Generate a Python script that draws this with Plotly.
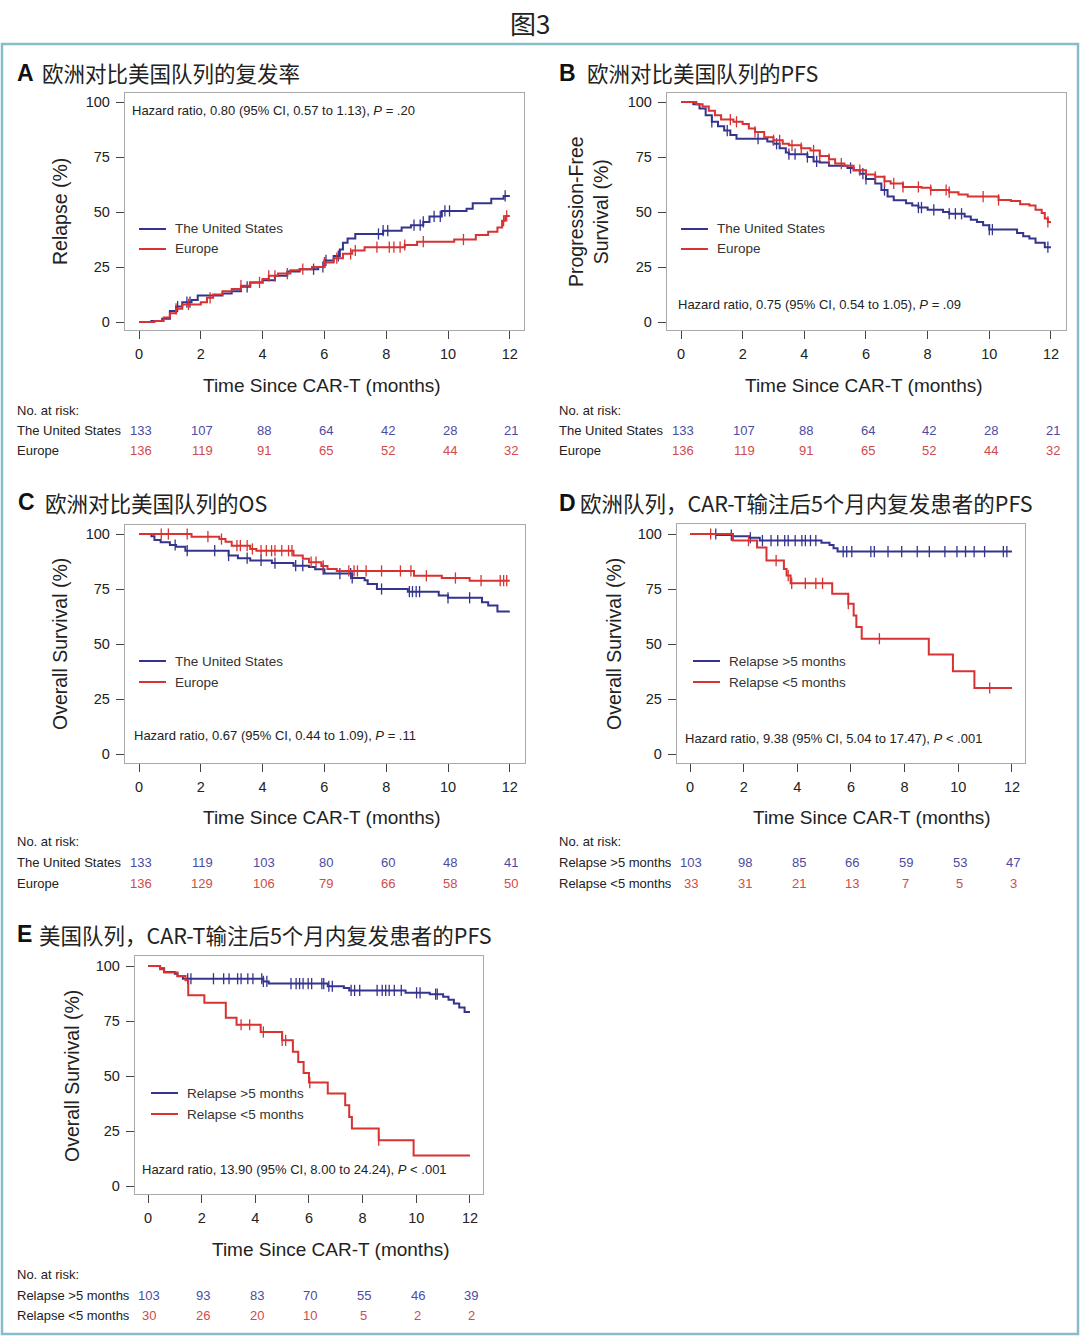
import plotly.graph_objects as go

W, H = 1080, 1337
BLUE = "#34348e"
RED = "#d83232"
BLUE_T = "#4b4ba3"
RED_T = "#d24a4a"

# ---------------- data ----------------
months = [0, 2, 4, 6, 8, 10, 12]
y_ticks = [0, 25, 50, 75, 100]

# Panel A: relapse (cumulative %)
A_us_t = [0, 0.4, 0.75, 1.0, 1.2, 1.4, 1.7, 1.9, 2.7, 3.0, 3.3, 3.6, 4.0, 4.4, 4.8, 5.2, 5.8, 6.0, 6.3, 6.5, 6.6, 6.75, 7.0, 7.9, 8.5, 8.8, 9.2, 9.4, 9.8, 10.6, 10.8, 11.4, 11.8, 12.0]
A_us_v = [0, 0.5, 1.5, 5, 7, 9, 10, 12, 13, 14, 16, 18, 19, 21, 23, 24, 25, 28, 30, 33, 36, 38, 40, 41.5, 43, 44, 45.5, 48, 50.5, 51.5, 54, 56, 57.3, 57.3]
A_us_c = [1.25, 1.55, 1.65, 3.5, 5.65, 5.95, 6.05, 6.45, 7.75, 7.9, 8.05, 8.9, 9.1, 9.2, 9.55, 9.75, 9.9, 10.05, 11.85]
A_eu_t = [0, 0.5, 0.8, 1.0, 1.2, 1.4, 2.0, 2.2, 2.4, 2.7, 3.0, 3.3, 3.6, 4.0, 4.2, 4.5, 4.9, 5.2, 5.6, 6.0, 6.3, 6.6, 6.9, 7.3, 8.6, 9.0, 10.2, 10.9, 11.3, 11.6, 11.75, 11.85, 12.0]
A_eu_v = [0, 0.5, 2, 4, 6, 8, 9, 11, 12.5, 14, 15, 16.5, 18, 19.5, 21, 22, 23.5, 24, 25, 27, 29, 31, 32.5, 34, 35, 36.5, 37.5, 39.5, 41, 43, 46, 48.2, 48.2]
A_eu_c = [1.2, 1.6, 2.3, 3.3, 3.9, 4.2, 4.4, 4.8, 5.3, 6.0, 6.4, 6.85, 7.0, 7.7, 8.1, 8.25, 8.45, 8.6, 9.2, 10.5, 11.8, 11.9]

# Panel B: PFS
B_us_t = [0, 0.3, 0.4, 0.6, 0.8, 1.0, 1.2, 1.4, 1.6, 1.8, 2.8, 3.0, 3.2, 3.4, 3.5, 4.1, 4.3, 4.5, 4.8, 5.4, 5.6, 5.8, 6.0, 6.3, 6.5, 6.7, 6.9, 7.3, 7.5, 7.7, 8.0, 8.5, 8.7, 9.2, 9.4, 9.6, 9.8, 10.0, 10.9, 11.1, 11.3, 11.5, 11.8, 12.0]
B_us_v = [100, 100, 99, 97, 94, 91, 89, 87, 85, 83.3, 82, 81, 79, 77, 76.3, 75, 73, 72.5, 71, 70, 69, 67.4, 65, 63, 60, 57, 55.3, 54, 53, 52, 51, 50, 49.2, 48, 46.5, 45.5, 44, 42, 40.5, 39, 38, 36, 34, 34]
B_us_c = [1.0, 1.5, 2.5, 3.1, 3.5, 3.7, 4.1, 4.4, 5.5, 5.9, 6.0, 6.6, 7.7, 7.8, 8.2, 8.7, 8.9, 9.1, 10.0, 10.1, 11.9]
B_eu_t = [0, 0.35, 0.5, 0.7, 0.9, 1.1, 1.3, 1.7, 2.0, 2.2, 2.4, 2.7, 3.0, 3.3, 3.5, 3.9, 4.2, 4.5, 4.8, 5.0, 5.3, 5.6, 6.0, 6.3, 6.6, 6.8, 7.2, 7.8, 8.1, 8.7, 9.0, 9.3, 10.3, 10.7, 11.0, 11.3, 11.5, 11.7, 11.8, 11.9, 12.0]
B_eu_v = [100, 100, 99, 98, 96, 94, 92, 91, 90, 88, 86.4, 84, 82.6, 81, 80.3, 79, 78, 75.5, 74, 72, 71, 69, 67, 66, 64, 63, 61.4, 61, 60, 59, 58, 57, 55.5, 55, 53.5, 53, 51, 49.5, 47, 45.5, 45.5]
B_eu_c = [1.6, 1.8, 2.4, 3.0, 3.2, 3.6, 3.9, 4.3, 4.5, 4.8, 5.2, 5.8, 6.3, 6.6, 6.9, 7.2, 7.7, 8.1, 8.6, 8.7, 9.8, 10.3, 11.9]

# Panel C: OS
C_us_t = [0, 0.3, 0.4, 0.5, 0.7, 1.0, 1.2, 1.5, 2.9, 3.2, 3.6, 4.3, 5.0, 5.5, 5.7, 6.0, 6.9, 7.3, 7.4, 7.7, 8.7, 9.7, 10.0, 11.1, 11.3, 11.6, 12.0]
C_us_v = [100, 100, 99, 97.3, 96.2, 95, 94.2, 92.4, 90.2, 89, 88, 86.8, 85.6, 85, 84, 82, 80, 79, 77.3, 75, 73.8, 72, 71, 69, 67.5, 64.8, 64.8]
C_us_c = [1.17, 1.56, 2.45, 2.9, 3.5, 3.95, 4.4, 5.07, 5.3, 5.96, 6.5, 6.85, 6.9, 7.85, 8.75, 8.85, 8.97, 9.08, 10.0, 10.7]
C_eu_t = [0, 1.7, 2.6, 2.8, 3.0, 3.6, 3.8, 5.0, 5.3, 5.5, 5.9, 6.1, 6.4, 8.9, 9.8, 10.7, 12.0]
C_eu_v = [100, 98.8, 97.7, 96.5, 94.7, 93.2, 92.4, 90.2, 88.7, 87.2, 85.5, 84.1, 83.2, 81, 80, 78.8, 78.8]
C_eu_c = [0.72, 0.95, 1.56, 2.23, 2.67, 3.17, 3.28, 3.5, 3.67, 3.95, 4.12, 4.29, 4.4, 4.62, 4.84, 4.95, 5.57, 5.73, 5.96, 6.79, 6.96, 7.07, 7.35, 7.85, 8.46, 8.8, 9.3, 10.24, 11.07, 11.69, 11.8, 11.9]

# Panel D: Europe cohort by relapse timing
D_gt_t = [0, 1.0, 1.6, 2.2, 2.6, 4.9, 5.2, 5.35, 5.5, 12.0]
D_gt_v = [100, 99.5, 99, 98.3, 97, 96, 95, 93.5, 92, 92]
D_gt_c = [0.96, 1.54, 2.25, 2.7, 3.02, 3.27, 3.53, 3.66, 3.92, 4.17, 4.3, 4.49, 4.69, 5.71, 5.84, 6.03, 6.74, 6.87, 7.38, 7.89, 8.47, 8.92, 9.5, 9.95, 10.27, 10.59, 10.98, 11.68, 11.81]
D_lt_t = [0, 1.6, 2.5, 2.85, 3.5, 3.6, 3.75, 5.3, 5.9, 6.1, 6.2, 6.4, 8.9, 9.8, 10.6, 12.0]
D_lt_v = [100, 97, 93.9, 87.9, 84.1, 81.1, 77.6, 72.8, 68.3, 63, 57.7, 52.4, 45.2, 37.6, 30, 30]
D_lt_c = [0.77, 2.18, 3.21, 3.66, 3.79, 4.3, 4.69, 4.94, 5.9, 7.06, 11.17]

# Panel E: US cohort by relapse timing
E_gt_t = [0, 0.45, 0.6, 1.0, 1.1, 1.3, 4.3, 4.5, 6.7, 7.3, 7.5, 9.6, 10.5, 11.0, 11.2, 11.4, 11.6, 11.8, 12.0]
E_gt_v = [100, 99, 97.3, 96.5, 95.3, 94.2, 93, 92, 90.8, 90, 88.9, 87.8, 87.2, 86, 84.7, 82.9, 81.1, 79.1, 79.1]
E_gt_c = [1.48, 1.6, 2.44, 2.82, 3.02, 3.34, 3.47, 3.72, 3.91, 4.24, 4.3, 4.43, 5.33, 5.52, 5.65, 5.78, 5.97, 6.1, 6.48, 6.55, 6.74, 6.87, 7.57, 7.7, 7.89, 8.54, 8.73, 8.86, 8.99, 9.18, 9.44, 10.01, 10.14, 10.72, 10.78]
E_lt_t = [0, 0.45, 0.6, 1.1, 1.4, 1.5, 2.1, 2.9, 3.3, 4.2, 5.0, 5.4, 5.6, 5.8, 6.0, 6.7, 7.35, 7.5, 7.6, 8.6, 9.9, 12.0]
E_lt_v = [100, 98.5, 97, 95.5, 93.5, 86.7, 83.3, 76.5, 73.3, 70, 66.2, 61, 56.4, 51.4, 47, 42, 36.7, 31.4, 26.1, 20.8, 13.9, 13.9]
E_lt_c = [3.47, 3.79, 4.3, 5.0, 5.13, 6.03, 8.6]

# Numbers at risk
A_risk_us = [133, 107, 88, 64, 42, 28, 21]
A_risk_eu = [136, 119, 91, 65, 52, 44, 32]
B_risk_us = [133, 107, 88, 64, 42, 28, 21]
B_risk_eu = [136, 119, 91, 65, 52, 44, 32]
C_risk_us = [133, 119, 103, 80, 60, 48, 41]
C_risk_eu = [136, 129, 106, 79, 66, 58, 50]
D_risk_gt = [103, 98, 85, 66, 59, 53, 47]
D_risk_lt = [33, 31, 21, 13, 7, 5, 3]
E_risk_gt = [103, 93, 83, 70, 55, 46, 39]
E_risk_lt = [30, 26, 20, 10, 5, 2, 2]

# ---------------- layout geometry (pixels) ----------------
panels = [
    dict(key="A", box=(125, 524, 93, 330), x0=139, xs=30.9, y100=102, y0=322,
         letter="A", letter_x=15, title="欧洲对比美国队列的复发率", title_x=40, title_y=73,
         ytitle="Relapse (%)", ytitle_x=60, ytitle_y=212,
         xtitle_x=322, xtitle_y=385,
         hr="Hazard ratio, 0.80 (95% CI, 0.57 to 1.13), <i>P</i> = .20", hr_x=130, hr_y=110,
         names=("The United States", "Europe"), leg_x=139, leg_y=(229, 249),
         risk_x=15, risk_y=(410, 431, 451),
         series=[(A_us_t, A_us_v, A_us_c), (A_eu_t, A_eu_v, A_eu_c)],
         risk=(A_risk_us, A_risk_eu)),
    dict(key="B", box=(667, 1066, 93, 330), x0=681, xs=30.83, y100=102, y0=322,
         letter="B", letter_x=557, title="欧洲对比美国队列的PFS", title_x=585, title_y=73,
         ytitle="Progression-Free<br>Survival (%)", ytitle_x=588, ytitle_y=212,
         xtitle_x=864, xtitle_y=385,
         hr="Hazard ratio, 0.75 (95% CI, 0.54 to 1.05), <i>P</i> = .09", hr_x=676, hr_y=304,
         names=("The United States", "Europe"), leg_x=681, leg_y=(229, 249),
         risk_x=557, risk_y=(410, 431, 451),
         series=[(B_us_t, B_us_v, B_us_c), (B_eu_t, B_eu_v, B_eu_c)],
         risk=(B_risk_us, B_risk_eu)),
    dict(key="C", box=(125, 525, 525, 763), x0=139, xs=30.9, y100=534, y0=754,
         letter="C", letter_x=16, title="欧洲对比美国队列的OS", title_x=43, title_y=502,
         ytitle="Overall Survival (%)", ytitle_x=60, ytitle_y=644,
         xtitle_x=322, xtitle_y=817,
         hr="Hazard ratio, 0.67 (95% CI, 0.44 to 1.09), <i>P</i> = .11", hr_x=132, hr_y=736,
         names=("The United States", "Europe"), leg_x=139, leg_y=(661, 682),
         risk_x=15, risk_y=(842, 862, 883),
         series=[(C_us_t, C_us_v, C_us_c), (C_eu_t, C_eu_v, C_eu_c)],
         risk=(C_risk_us, C_risk_eu)),
    dict(key="D", box=(677, 1025, 524, 763), x0=690, xs=26.83, y100=534, y0=754,
         letter="D", letter_x=557, title="欧洲队列，CAR-T输注后5个月内复发患者的PFS", title_x=578, title_y=503,
         ytitle="Overall Survival (%)", ytitle_x=614, ytitle_y=644,
         xtitle_x=872, xtitle_y=817,
         hr="Hazard ratio, 9.38 (95% CI, 5.04 to 17.47), <i>P</i> &lt; .001", hr_x=683, hr_y=738,
         names=("Relapse >5 months", "Relapse <5 months"), leg_x=693, leg_y=(661, 682),
         risk_x=557, risk_y=(842, 862, 883),
         series=[(D_gt_t, D_gt_v, D_gt_c), (D_lt_t, D_lt_v, D_lt_c)],
         risk=(D_risk_gt, D_risk_lt)),
    dict(key="E", box=(135, 483, 956, 1194), x0=148, xs=26.83, y100=966, y0=1186,
         letter="E", letter_x=15, title="美国队列，CAR-T输注后5个月内复发患者的PFS", title_x=37, title_y=934,
         ytitle="Overall Survival (%)", ytitle_x=72, ytitle_y=1076,
         xtitle_x=331, xtitle_y=1249,
         hr="Hazard ratio, 13.90 (95% CI, 8.00 to 24.24), <i>P</i> &lt; .001", hr_x=140, hr_y=1169,
         names=("Relapse >5 months", "Relapse <5 months"), leg_x=151, leg_y=(1093, 1114),
         risk_x=15, risk_y=(1274, 1295, 1315),
         series=[(E_gt_t, E_gt_v, E_gt_c), (E_lt_t, E_lt_v, E_lt_c)],
         risk=(E_risk_gt, E_risk_lt)),
]

SANS = "Liberation Sans, Arial, Helvetica, sans-serif"
CJK = "Noto Sans CJK SC, sans-serif"


def fx(p):
    return p / W


def fy(p):
    return 1 - p / H


def step_value(ts, vs, t):
    val = vs[0]
    for ti, vi in zip(ts, vs):
        if ti <= t:
            val = vi
        else:
            break
    return val


def esc(s):
    return s.replace("<", "&lt;").replace(">", "&gt;")


fig = go.Figure()
annotations = []
shapes = []
layout_axes = {}

colors = [BLUE, RED]
tcolors = [BLUE_T, RED_T]

for i, p in enumerate(panels):
    n = "" if i == 0 else str(i + 1)
    xa, ya = "x" + n, "y" + n
    bl, br, bt, bb = p["box"]
    xr = [(bl - p["x0"]) / p["xs"], (br - p["x0"]) / p["xs"]]
    ys = (p["y0"] - p["y100"]) / 100.0
    yr = [(p["y0"] - bb) / ys, (p["y0"] - bt) / ys]

    axis_common = dict(showline=True, mirror=True, linecolor="#a9a9a9", linewidth=1.3,
                       showgrid=False, zeroline=False, ticks="outside", ticklen=8,
                       tickwidth=1.4, tickcolor="#444444",
                       tickfont=dict(family=SANS, size=14.5, color="#222222"))
    layout_axes["xaxis" + n] = dict(axis_common, domain=[fx(bl), fx(br)], range=xr,
                                    anchor=ya, tickvals=months, ticklabelstandoff=2)
    layout_axes["yaxis" + n] = dict(axis_common, domain=[fy(bb), fy(bt)], range=yr,
                                    anchor=xa, tickvals=y_ticks, ticklabelstandoff=3)

    for j, (ts, vs, cs) in enumerate(p["series"]):
        fig.add_trace(go.Scatter(x=ts, y=vs, mode="lines", line=dict(color=colors[j], width=2, shape="hv"),
                                 xaxis=xa, yaxis=ya, showlegend=False, hoverinfo="skip"))
        fig.add_trace(go.Scatter(x=cs, y=[step_value(ts, vs, c) for c in cs], mode="markers",
                                 marker=dict(symbol="line-ns", size=8, line=dict(color=colors[j], width=1.3)),
                                 xaxis=xa, yaxis=ya, showlegend=False, hoverinfo="skip"))

    annotations.append(dict(text="<b>" + p["letter"] + "</b>", x=fx(p["letter_x"]), y=fy(p["title_y"]),
                            xref="paper", yref="paper", xanchor="left", yanchor="middle", showarrow=False,
                            font=dict(family=SANS, size=23, color="#111111")))
    annotations.append(dict(text=p["title"], x=fx(p["title_x"]), y=fy(p["title_y"]),
                            xref="paper", yref="paper", xanchor="left", yanchor="middle", showarrow=False,
                            font=dict(family=CJK, size=21.5, color="#222222")))
    annotations.append(dict(text=p["ytitle"], x=fx(p["ytitle_x"]), y=fy(p["ytitle_y"]),
                            xref="paper", yref="paper", xanchor="center", yanchor="middle", showarrow=False,
                            textangle=-90, font=dict(family=SANS, size=19.5, color="#222222")))
    annotations.append(dict(text="Time Since CAR-T (months)", x=fx(p["xtitle_x"]), y=fy(p["xtitle_y"]),
                            xref="paper", yref="paper", xanchor="center", yanchor="middle", showarrow=False,
                            font=dict(family=SANS, size=19, color="#222222")))
    annotations.append(dict(text=p["hr"], x=fx(p["hr_x"]), y=fy(p["hr_y"]),
                            xref="paper", yref="paper", xanchor="left", yanchor="middle", showarrow=False,
                            font=dict(family=SANS, size=13, color="#222222")))
    for j, nm in enumerate(p["names"]):
        ly = p["leg_y"][j]
        shapes.append(dict(type="line", xref="paper", yref="paper", x0=fx(p["leg_x"]), x1=fx(p["leg_x"] + 27),
                           y0=fy(ly), y1=fy(ly), line=dict(color=colors[j], width=2)))
        annotations.append(dict(text=esc(nm), x=fx(p["leg_x"] + 34), y=fy(ly),
                                xref="paper", yref="paper", xanchor="left", yanchor="middle", showarrow=False,
                                font=dict(family=SANS, size=13.5, color="#333333")))
    annotations.append(dict(text="No. at risk:", x=fx(p["risk_x"]), y=fy(p["risk_y"][0]),
                            xref="paper", yref="paper", xanchor="left", yanchor="middle", showarrow=False,
                            font=dict(family=SANS, size=13, color="#222222")))
    for j, nm in enumerate(p["names"]):
        ry = p["risk_y"][j + 1]
        annotations.append(dict(text=esc(nm), x=fx(p["risk_x"]), y=fy(ry),
                                xref="paper", yref="paper", xanchor="left", yanchor="middle", showarrow=False,
                                font=dict(family=SANS, size=13, color="#222222")))
        for m, val in zip(months, p["risk"][j]):
            annotations.append(dict(text=str(val), x=m + 0.05, y=fy(ry), xref=xa, yref="paper",
                                    xanchor="center", yanchor="middle", showarrow=False,
                                    font=dict(family=SANS, size=13, color=tcolors[j])))

annotations.append(dict(text="图3", x=fx(530), y=fy(22), xref="paper", yref="paper",
                        xanchor="center", yanchor="middle", showarrow=False,
                        font=dict(family=CJK, size=26, color="#222222")))
shapes.append(dict(type="rect", xref="paper", yref="paper", x0=fx(2), x1=fx(1078), y0=fy(1334), y1=fy(44),
                   line=dict(color="#86bccb", width=2.5), fillcolor="rgba(0,0,0,0)", layer="below"))

fig.update_layout(width=W, height=H, margin=dict(l=0, r=0, t=0, b=0),
                  paper_bgcolor="white", plot_bgcolor="white",
                  annotations=annotations, shapes=shapes, showlegend=False, **layout_axes)

fig.write_html("out.html", config={"displayModeBar": False},
               post_script="document.body.style.margin='0px';document.body.style.overflow='hidden';")
